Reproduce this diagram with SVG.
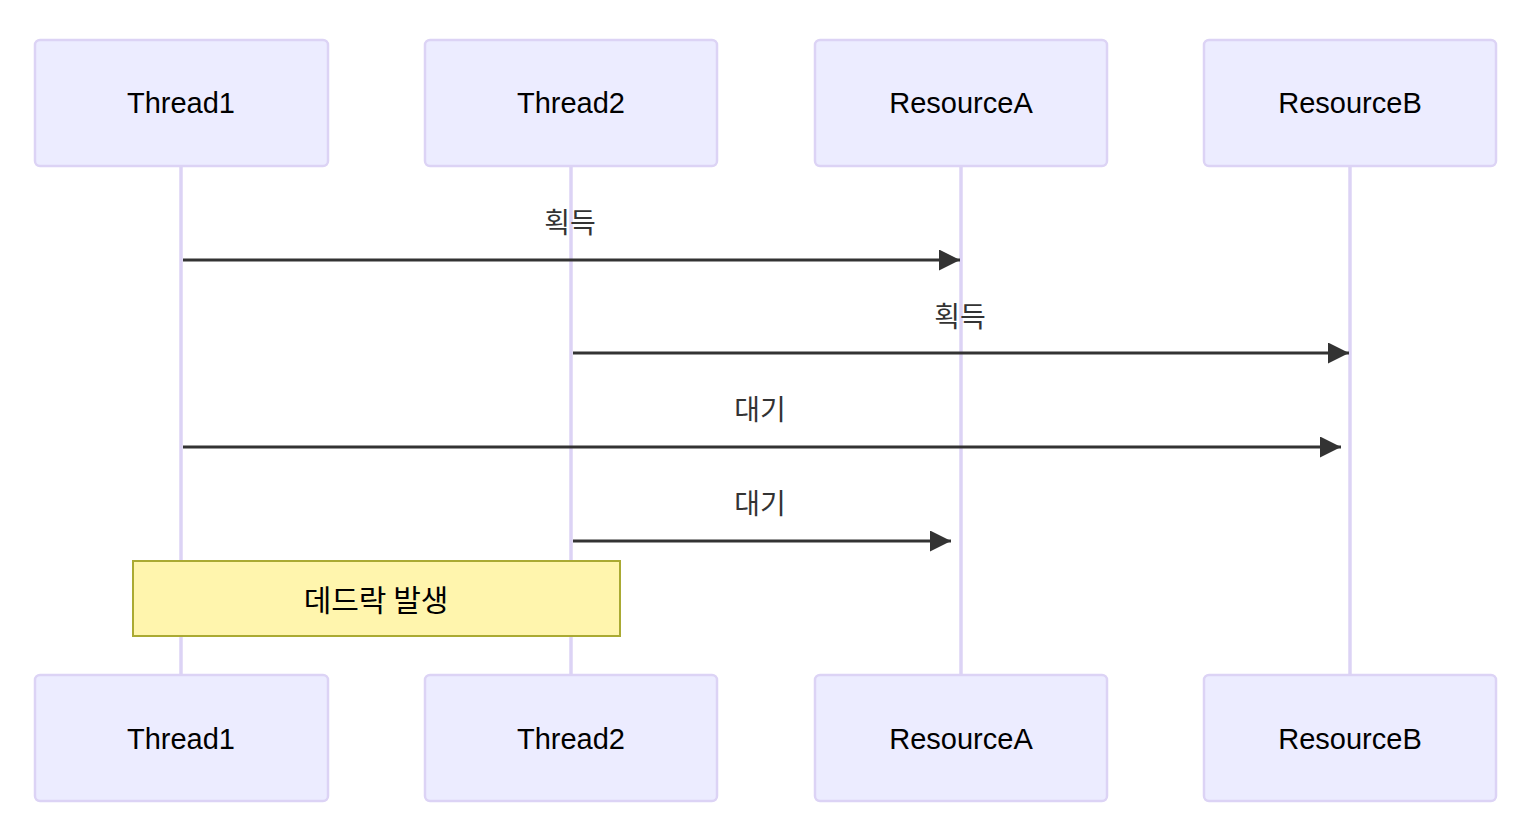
<svg xmlns="http://www.w3.org/2000/svg" width="1526" height="830" viewBox="0 0 1526 830">
<style>
.actor{fill:#ECECFF;stroke:#DCD3F5;stroke-width:2.5}
.atext{font-family:"Liberation Sans","Noto Sans CJK KR",sans-serif;font-size:29px;fill:#000;text-anchor:middle;dominant-baseline:central}
.life{stroke:#DCD3F5;stroke-width:3.5}
.msg{stroke:#333;stroke-width:3;fill:none}
.mtext{font-family:"Noto Sans CJK KR","Liberation Sans",sans-serif;font-size:28px;fill:#333;text-anchor:middle}
.note{fill:#FFF5AD;stroke:#AAAA33;stroke-width:2}
.ntext{font-family:"Noto Sans CJK KR","Liberation Sans",sans-serif;font-size:30px;fill:#000;text-anchor:middle;dominant-baseline:central}
</style>
<defs>
<marker id="arrow" viewBox="0 0 10 10" refX="10" refY="5" markerWidth="7" markerHeight="7" markerUnits="strokeWidth" orient="auto">
<path d="M0,0 L10,5 L0,10 z" fill="#333"/>
</marker>
</defs>
<g id="lifelines">
<line class="life" x1="181" y1="166" x2="181" y2="675"/>
<line class="life" x1="571" y1="166" x2="571" y2="675"/>
<line class="life" x1="961" y1="166" x2="961" y2="675"/>
<line class="life" x1="1350" y1="166" x2="1350" y2="675"/>
</g>
<g id="Thread1-top"><rect class="actor" x="35" y="40" width="293" height="126" rx="5"/><text class="atext" x="181" y="103">Thread1</text></g>
<g id="Thread2-top"><rect class="actor" x="425" y="40" width="292" height="126" rx="5"/><text class="atext" x="571" y="103">Thread2</text></g>
<g id="ResourceA-top"><rect class="actor" x="815" y="40" width="292" height="126" rx="5"/><text class="atext" x="961" y="103">ResourceA</text></g>
<g id="ResourceB-top"><rect class="actor" x="1204" y="40" width="292" height="126" rx="5"/><text class="atext" x="1350" y="103">ResourceB</text></g>
<g id="Thread1-bottom"><rect class="actor" x="35" y="675" width="293" height="126" rx="5"/><text class="atext" x="181" y="739">Thread1</text></g>
<g id="Thread2-bottom"><rect class="actor" x="425" y="675" width="292" height="126" rx="5"/><text class="atext" x="571" y="739">Thread2</text></g>
<g id="ResourceA-bottom"><rect class="actor" x="815" y="675" width="292" height="126" rx="5"/><text class="atext" x="961" y="739">ResourceA</text></g>
<g id="ResourceB-bottom"><rect class="actor" x="1204" y="675" width="292" height="126" rx="5"/><text class="atext" x="1350" y="739">ResourceB</text></g>
<g id="connectors">
<line class="msg" x1="183" y1="260" x2="960" y2="260" marker-end="url(#arrow)"/>
<text class="mtext" x="570" y="233">획득</text>
<line class="msg" x1="573" y1="353" x2="1349" y2="353" marker-end="url(#arrow)"/>
<text class="mtext" x="960" y="327">획득</text>
<line class="msg" x1="183" y1="447" x2="1341" y2="447" marker-end="url(#arrow)"/>
<text class="mtext" x="760" y="420">대기</text>
<line class="msg" x1="573" y1="541" x2="951" y2="541" marker-end="url(#arrow)"/>
<text class="mtext" x="760" y="514">대기</text>
</g>
<g id="note"><rect class="note" x="133" y="561" width="487" height="75"/><text class="ntext" x="376" y="598">데드락 발생</text></g>
</svg>
